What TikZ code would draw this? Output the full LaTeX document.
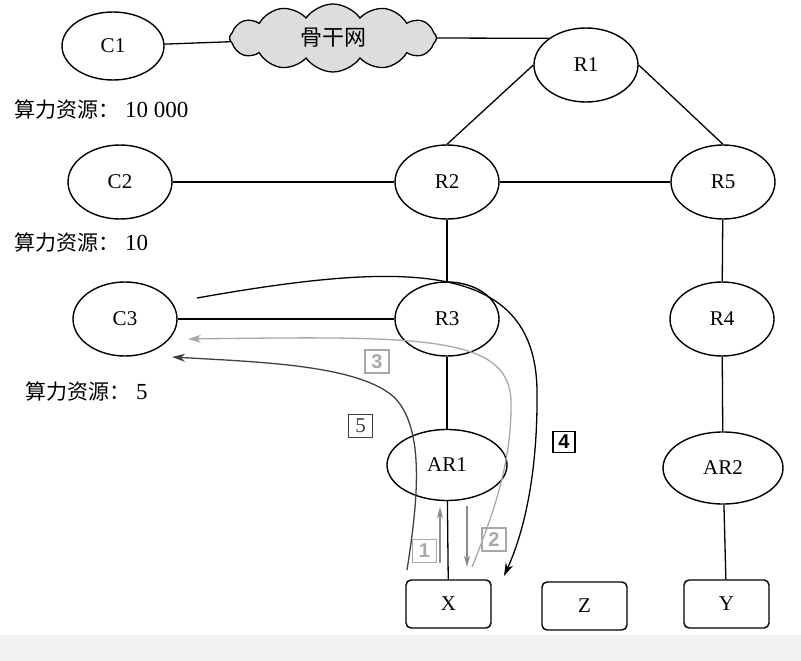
\documentclass[tikz,border=0pt]{standalone}
\usepackage{fontspec}
\setmainfont{Liberation Serif}
\newfontfamily\cjk{Noto Sans CJK SC}
\newfontfamily\lsans{Liberation Sans}
\usetikzlibrary{shapes.geometric,shapes.symbols,arrows.meta}
\definecolor{lgray}{HTML}{A8A8A8}
\definecolor{mgray}{HTML}{8C8C8C}
\definecolor{dgray}{HTML}{404040}
\definecolor{band}{HTML}{F2F2F2}
\definecolor{cloudfill}{HTML}{DDDDDD}
\begin{document}
\begin{tikzpicture}[x=1pt,y=-1pt,
  ell/.style={draw, ellipse, line width=1.4pt, minimum width=104pt, minimum height=74pt, inner sep=0pt, font=\fontsize{21}{25}\selectfont},
  hostbox/.style={draw, rounded corners=5pt, line width=1.4pt, minimum width=85pt, minimum height=48pt, inner sep=0pt, font=\fontsize{21}{25}\selectfont},
  edge/.style={line width=1.3pt},
  lab/.style={anchor=west, inner sep=0pt, font=\fontsize{23}{27}\selectfont},
  numbox/.style={draw, line width=1.2pt, minimum width=24pt, minimum height=23pt, inner sep=0pt, font=\fontsize{20}{24}\lsans\bfseries},
  arr/.style={line width=1.3pt, -{Stealth[length=13pt, width=8pt, inset=4pt]}},
  sarr/.style={line width=1.2pt, -{Stealth[length=11pt, width=6pt, inset=3pt]}}
]
\useasboundingbox (0,0) rectangle (801,661);
\fill[band] (0,635) rectangle (801,661);

% nodes
\node[ell, minimum width=102pt, minimum height=68pt] (C1) at (113,46) {C1};
\node[cloud, draw, fill=cloudfill, cloud puffs=12, cloud puff arc=110, aspect=3.2,
      minimum width=207pt, minimum height=68pt, inner sep=0pt, line width=1.3pt] (cloud) at (333,38) {\fontsize{22}{26}\cjk 骨干网};
\node[ell] (R1) at (586,65) {R1};
\node[ell] (C2) at (120,182) {C2};
\node[ell] (R2) at (447,182) {R2};
\node[ell] (R5) at (723,182) {R5};
\node[ell] (C3) at (125,319) {C3};
\node[ell] (R3) at (447,319) {R3};
\node[ell] (R4) at (722,319) {R4};
\node[ell, minimum width=120pt, minimum height=71pt] (AR1) at (447,465) {AR1};
\node[ell, minimum width=120pt, minimum height=72pt] (AR2) at (723,468) {AR2};
\node[hostbox] (X) at (448.5,604) {X};
\node[hostbox] (Z) at (584.5,606) {Z};
\node[hostbox] (Y) at (726.5,604) {Y};

% labels
\node[lab] (L1) at (14,110) {{\fontsize{21}{26}\cjk 算力资源：}\hspace{6pt}10 000};
\node[lab] (L2) at (14,243) {{\fontsize{21}{26}\cjk 算力资源：}\hspace{6pt}10};
\node[lab] (L3) at (25,392) {{\fontsize{21}{26}\cjk 算力资源：}\hspace{6pt}5};

% edges
\draw[edge] (C1) -- (cloud);
\draw[edge] (cloud.east) -- (R1.north west);
\draw[edge] (R1.west) -- (R2.north);
\draw[edge] (R1.east) -- (R5.north);
\draw[edge] (C2) -- (R2);
\draw[edge] (R2) -- (R5);
\draw[edge] (R2) -- (R3);
\draw[edge] (R5) -- (R4);
\draw[edge] (C3) -- (R3);
\draw[edge] (R3) -- (AR1);
\draw[edge] (R4) -- (AR2);
\draw[edge] (AR1) -- (X);
\draw[edge] (AR2) -- (Y);

% flow arrows
\coordinate (a4s) at (197,298);
\coordinate (a4e) at (504,576);
\coordinate (a3s) at (472,567);
\coordinate (a3e) at (188,339);
\coordinate (a5s) at (407,570);
\coordinate (a5e) at (172,357);
\coordinate (a1s) at (440,563);
\coordinate (a1e) at (440,507);
\coordinate (a2s) at (467,506);
\coordinate (a2e) at (467,567);

\draw[arr, black] (a4s) .. controls (400,262) and (535,258) .. (537,390)
                        .. controls (538,470) and (525,530) .. (a4e);
\draw[arr, lgray] (a3s) .. controls (495,510) and (512,460) .. (511,400)
                        .. controls (508,335) and (420,336) .. (a3e);
\draw[arr, dgray] (a5s) .. controls (418,500) and (425,430) .. (395,398)
                        .. controls (360,365) and (260,362) .. (a5e);
\draw[sarr, mgray] (a1s) -- (a1e);
\draw[sarr, mgray] (a2s) -- (a2e);

% step labels
\node[numbox, draw=lgray, text=lgray] (n1) at (424.5,551) {1};
\node[numbox, draw=lgray, text=lgray] (n2) at (494,539.5) {2};
\node[numbox, draw=lgray, text=lgray] (n3) at (377,361.5) {3};
\node[numbox, draw=black, text=black, line width=1.8pt, minimum width=22pt, minimum height=21pt] (n4) at (564,442) {4};
\node[numbox, draw=dgray, text=dgray, font=\fontsize{21}{24}\selectfont] (n5) at (360.5,426) {5};
\end{tikzpicture}
\end{document}
